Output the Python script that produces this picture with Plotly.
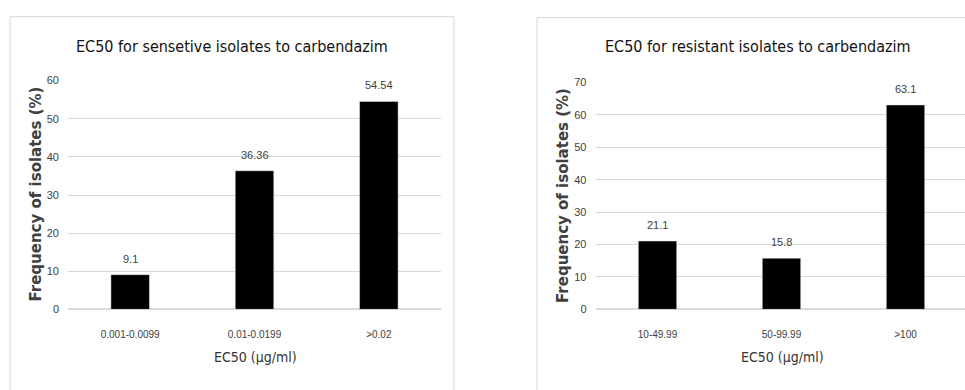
import plotly.graph_objects as go

W, H = 965, 390

# Sensitive isolates
sens_cats = ["0.001-0.0099", "0.01-0.0199", ">0.02"]
sens_vals = [9.1, 36.36, 54.54]
sens_labels = ["9.1", "36.36", "54.54"]

# Resistant isolates
res_cats = ["10-49.99", "50-99.99", ">100"]
res_vals = [21.1, 15.8, 63.1]
res_labels = ["21.1", "15.8", "63.1"]

COND = "DejaVu Sans Condensed, Liberation Sans, sans-serif"
SANS = "Liberation Sans, Arial, sans-serif"
GRID = "#d9d9d9"


def px_x(p):
    return p / W


def px_y(p):
    return 1 - p / H


fig = go.Figure()

fig.add_trace(go.Bar(x=sens_cats, y=sens_vals, marker_color="black", width=0.31,
                     xaxis="x", yaxis="y", showlegend=False))
fig.add_trace(go.Bar(x=res_cats, y=res_vals, marker_color="black", width=0.31,
                     xaxis="x2", yaxis="y2", showlegend=False))

ytickfont = dict(family=SANS, size=11, color="#404040")
xtickfont = dict(family=SANS, size=10, color="#404040")

fig.update_layout(
    width=W, height=H,
    margin=dict(l=0, r=0, t=0, b=0),
    paper_bgcolor="white", plot_bgcolor="white",
    font=dict(family=SANS, color="#262626"),
    xaxis=dict(domain=[px_x(68), px_x(441)], range=[-0.5, 2.5], showgrid=False,
               showline=False, ticks="", tickfont=xtickfont, anchor="y", ticklabelstandoff=18),
    yaxis=dict(domain=[px_y(313), px_y(77)], range=[0, 60], dtick=10,
               gridcolor=GRID, gridwidth=1, zeroline=True, zerolinecolor=GRID,
               showline=False, ticks="", tickfont=ytickfont, anchor="x", ticklabelstandoff=8),
    xaxis2=dict(domain=[px_x(595.5), 1], range=[-0.5, -0.5 + 369.5 / 124], showgrid=False,
                showline=False, ticks="", tickfont=xtickfont, anchor="y2", ticklabelstandoff=18),
    yaxis2=dict(domain=[px_y(313), px_y(79)], range=[0, 70], dtick=10,
                gridcolor=GRID, gridwidth=1, zeroline=True, zerolinecolor=GRID,
                showline=False, ticks="", tickfont=ytickfont, anchor="x2", ticklabelstandoff=8),
)

# Chart-area borders
fig.add_shape(type="rect", xref="paper", yref="paper",
              x0=px_x(10), x1=px_x(454), y0=px_y(400), y1=px_y(11),
              line=dict(color=GRID, width=1), layer="below")
fig.add_shape(type="rect", xref="paper", yref="paper",
              x0=px_x(537), x1=px_x(980), y0=px_y(400), y1=px_y(12),
              line=dict(color=GRID, width=1), layer="below")

ann = []
# Titles
ann.append(dict(text="EC50 for sensetive isolates to carbendazim", x=px_x(232), y=px_y(42),
                xref="paper", yref="paper", showarrow=False, xanchor="center", yanchor="middle",
                font=dict(family=COND, size=16, color="#111111")))
ann.append(dict(text="EC50 for resistant isolates to carbendazim", x=px_x(758), y=px_y(42),
                xref="paper", yref="paper", showarrow=False, xanchor="center", yanchor="middle",
                font=dict(family=COND, size=16, color="#111111")))
# Axis titles
for xc, yc in [(36, 194.5), (563, 196)]:
    ann.append(dict(text="<b>Frequency of isolates (%)</b>", x=px_x(xc), y=px_y(yc),
                    xref="paper", yref="paper", showarrow=False, textangle=-90,
                    xanchor="center", yanchor="middle",
                    font=dict(family="DejaVu Sans, sans-serif", size=15, color="#404040")))
for xc in [255, 782]:
    ann.append(dict(text="EC50 (µg/ml)", x=px_x(xc), y=px_y(362),
                    xref="paper", yref="paper", showarrow=False,
                    xanchor="center", yanchor="middle",
                    font=dict(family=COND, size=14, color="#333333")))
# Value labels above bars
for cats, vals, labels, xa, ya in [(sens_cats, sens_vals, sens_labels, "x", "y"),
                                   (res_cats, res_vals, res_labels, "x2", "y2")]:
    for c, v, t in zip(cats, vals, labels):
        ann.append(dict(text=t, x=c, y=v, xref=xa, yref=ya, showarrow=False,
                        xanchor="center", yanchor="bottom", yshift=8,
                        font=dict(family=SANS, size=11, color="#404040")))

fig.update_layout(annotations=ann)

fig.write_html("out.html")
